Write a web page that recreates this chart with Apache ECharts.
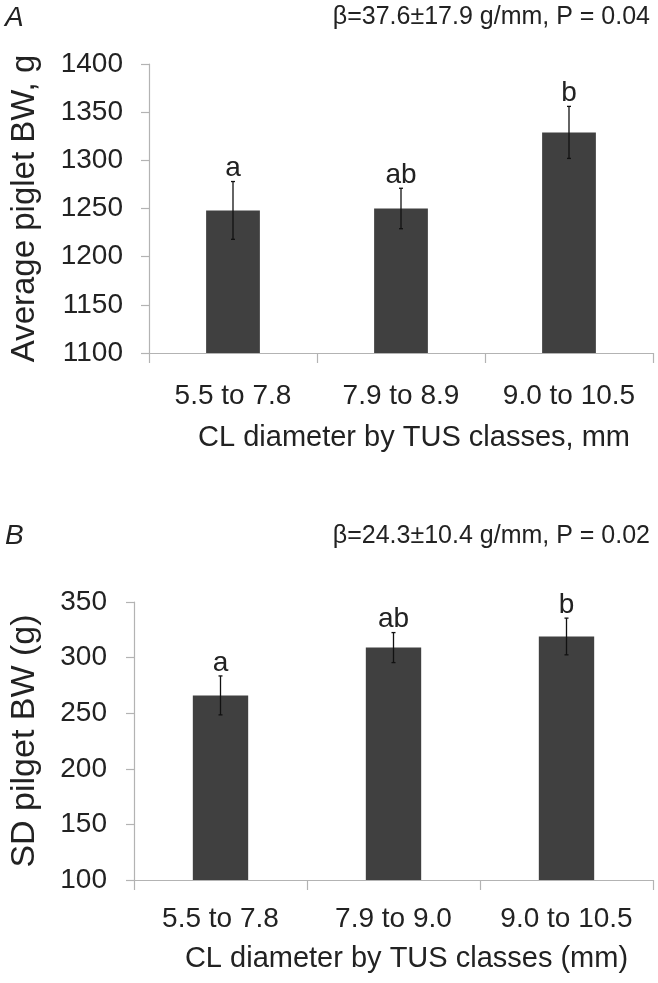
<!DOCTYPE html>
<html><head><meta charset="utf-8">
<script src="https://cdn.jsdelivr.net/npm/echarts@6/dist/echarts.min.js"></script>
<style>html,body{margin:0;padding:0;background:#fff}#c{width:658px;height:983px}</style>
</head><body><div id="c"></div>
<script>
// ---- data ----
const categoriesA = ['5.5 to 7.8', '7.9 to 8.9', '9.0 to 10.5'];
const valuesA = [1248, 1250, 1329];
const errorsA = [30, 21, 27];
const lettersA = ['a', 'ab', 'b'];
const yTicksA = [1100, 1150, 1200, 1250, 1300, 1350, 1400];
const statA = 'β=37.6±17.9 g/mm, P = 0.04';

const categoriesB = ['5.5 to 7.8', '7.9 to 9.0', '9.0 to 10.5'];
const valuesB = [266, 309, 319];
const errorsB = [17.5, 13.5, 16.5];
const lettersB = ['a', 'ab', 'b'];
const yTicksB = [100, 150, 200, 250, 300, 350];
const statB = 'β=24.3±10.4 g/mm, P = 0.02';

const FONT = "'Liberation Sans', Arial, Helvetica, sans-serif";
const TXT = '#222';
const AXC = '#b3b3b3';

function errRender(letters) {
  return function (params, api) {
    const i = api.value(0), v = api.value(1), e = api.value(2);
    const top = api.coord([i, v + e]);
    const bot = api.coord([i, v - e]);
    const x = top[0];
    const st = { stroke: '#111', lineWidth: 1.3 };
    return {
      type: 'group',
      children: [
        { type: 'line', shape: { x1: x, y1: top[1], x2: x, y2: bot[1] }, style: st },
        { type: 'line', shape: { x1: x - 2, y1: top[1], x2: x + 2, y2: top[1] }, style: st },
        { type: 'line', shape: { x1: x - 2, y1: bot[1], x2: x + 2, y2: bot[1] }, style: st },
        { type: 'text', x: x, y: top[1] + 1, style: { text: letters[i], fill: TXT, font: '28px ' + FONT, align: 'center', verticalAlign: 'bottom' } }
      ]
    };
  };
}

function xAxisDef(grid, cats, name, nameGap, margin) {
  return {
    type: 'category', gridIndex: grid, data: cats,
    axisLine: { lineStyle: { color: AXC, width: 1.2 } },
    axisTick: { show: true, length: 10, lineStyle: { color: AXC, width: 1.2 } },
    axisLabel: { color: TXT, fontSize: 28, fontFamily: FONT, margin: margin, interval: 0, hideOverlap: false },
    name: name, nameLocation: 'middle', nameGap: nameGap,
    nameTextStyle: { color: TXT, fontSize: 29, fontFamily: FONT, padding: [0, 0, 0, 26] }
  };
}
function yAxisDef(grid, ticks, name, nameGap, nameSize, margin) {
  return {
    type: 'value', gridIndex: grid,
    min: ticks[0], max: ticks[ticks.length - 1], interval: ticks[1] - ticks[0],
    splitLine: { show: false },
    axisLine: { show: true, lineStyle: { color: AXC, width: 1.2 } },
    axisTick: { show: true, length: 8, lineStyle: { color: AXC, width: 1.2 } },
    axisLabel: { color: TXT, fontSize: 28, fontFamily: FONT, margin: margin, formatter: (v) => String(v) },
    name: name, nameLocation: 'middle', nameGap: nameGap,
    nameTextStyle: { color: TXT, fontSize: nameSize, fontFamily: FONT }
  };
}

const chart = echarts.init(document.getElementById('c'), null, { renderer: 'canvas' });
chart.setOption({
  animation: false,
  backgroundColor: '#fff',
  grid: [
    { left: 144, right: 5, top: 64, height: 289 },
    { left: 131, right: 5, top: 602, height: 278 }
  ],
  xAxis: [
    xAxisDef(0, categoriesA, 'CL diameter by TUS classes, mm', 70, 29),
    xAxisDef(1, categoriesB, 'CL diameter by TUS classes (mm)', 64, 25)
  ],
  yAxis: [
    yAxisDef(0, yTicksA, 'Average piglet BW, g', 108, 33, 26),
    yAxisDef(1, yTicksB, 'SD pilget BW (g)', 92, 34, 27)
  ],
  graphic: [
    { type: 'text', left: 5, top: 4, style: { text: 'A', fill: TXT, font: 'italic 28px ' + FONT } },
    { type: 'text', right: 8, top: 5, style: { text: statA, fill: TXT, font: '25px ' + FONT } },
    { type: 'text', left: 5, top: 522, style: { text: 'B', fill: TXT, font: 'italic 28px ' + FONT } },
    { type: 'text', right: 8, top: 524, style: { text: statB, fill: TXT, font: '25px ' + FONT } }
  ],
  series: [
    { type: 'bar', xAxisIndex: 0, yAxisIndex: 0, data: valuesA, barWidth: '32%',
      itemStyle: { color: '#404040' } },
    { type: 'custom', xAxisIndex: 0, yAxisIndex: 0, z: 5, renderItem: errRender(lettersA),
      encode: { x: 0, y: 1 }, data: valuesA.map((v, i) => [i, v, errorsA[i]]) },
    { type: 'bar', xAxisIndex: 1, yAxisIndex: 1, data: valuesB, barWidth: '32%',
      itemStyle: { color: '#404040' } },
    { type: 'custom', xAxisIndex: 1, yAxisIndex: 1, z: 5, renderItem: errRender(lettersB),
      encode: { x: 0, y: 1 }, data: valuesB.map((v, i) => [i, v, errorsB[i]]) }
  ]
});
</script></body></html>
